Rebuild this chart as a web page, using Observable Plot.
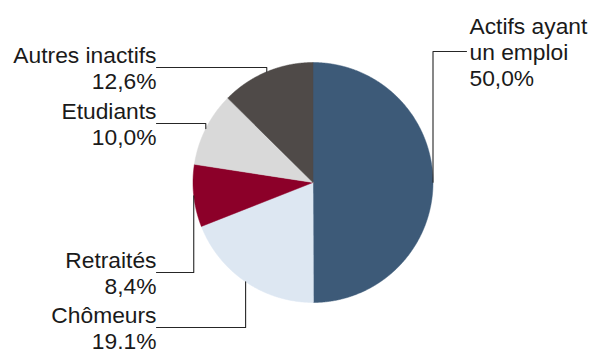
<!DOCTYPE html>
<html>
<head>
<meta charset="utf-8">
<script src="https://cdn.jsdelivr.net/npm/d3@7"></script>
<script src="https://cdn.jsdelivr.net/npm/@observablehq/plot@0.6"></script>
<style>
  html, body { margin: 0; padding: 0; background: #fff; }
  #chart svg { display: block; }
</style>
</head>
<body>
<div id="chart"></div>
<script>
// ---- Data ----
const categories = ["Actifs ayant un emploi", "Chômeurs", "Retraités", "Etudiants", "Autres inactifs"];
const labelTexts = ["Actifs ayant\nun emploi\n50,0%", "Chômeurs\n19.1%", "Retraités\n8,4%", "Etudiants\n10,0%", "Autres inactifs\n12,6%"];
const shares = [50.0, 19.1, 8.4, 10.0, 12.6];
const colors = ["#3D5A78", "#DDE7F2", "#8C0029", "#D9D9D9", "#4F4A48"];

// ---- Layout (pixels) ----
const W = 592, H = 349;
const cx = 312.5, cy = 182, R = 120;
// label anchor: x of text edge, y of label vertical middle, text anchor
const labelX = [469, 156, 156, 156, 156];
const labelY = [51, 327, 272, 123, 67];
const labelSide = ["start", "end", "end", "end", "end"];

// unit conversions (scales map unit circle to the pie)
const ux = px => (px - cx) / R;
const uy = py => (cy - py) / R;

const pie = d3.pie().sort(null).value(d => d)(shares);

// slice polygons on unit circle (angle 0 at top, clockwise)
const slicePts = [];
pie.forEach((a, i) => {
  const n = Math.max(2, Math.ceil((a.endAngle - a.startAngle) / 0.005));
  slicePts.push({k: i, x: 0, y: 0});
  for (let j = 0; j <= n; j++) {
    const t = a.startAngle + (a.endAngle - a.startAngle) * j / n;
    slicePts.push({k: i, x: Math.sin(t), y: Math.cos(t)});
  }
  slicePts.push({k: i, x: 0, y: 0});
});

// leader lines: from slice mid-angle on the rim, vertical to label y, horizontal to label edge
const leaderPts = [];
pie.forEach((a, i) => {
  const m = (a.startAngle + a.endAngle) / 2;
  const x0 = Math.sin(m), y0 = Math.cos(m);
  const ly = uy(labelY[i]);
  const lx = ux(labelSide[i] === "start" ? labelX[i] - 3 : labelX[i]);
  leaderPts.push({k: i, x: x0, y: y0}, {k: i, x: x0, y: ly}, {k: i, x: lx, y: ly});
});

const labels = categories.map((c, i) => ({
  text: labelTexts[i], x: ux(labelX[i]), y: uy(labelY[i]), side: labelSide[i]
}));

const fs = 22.8;
const chart = Plot.plot({
  width: W,
  height: H,
  margin: 0,
  x: {domain: [-1, 1], range: [cx - R, cx + R], axis: null},
  y: {domain: [-1, 1], range: [cy + R, cy - R], axis: null},
  style: {fontFamily: "'Liberation Sans', Arial, sans-serif", background: "#fff"},
  marks: [
    ...pie.map((a, i) => Plot.line(slicePts.filter(d => d.k === i), {
      x: "x", y: "y", fill: colors[i], stroke: colors[i], strokeWidth: 0.5, curve: "linear"
    })),
    Plot.line(leaderPts, {x: "x", y: "y", z: "k", stroke: "#262626", strokeWidth: 1.1, curve: "linear"}),
    Plot.text(labels.filter(d => d.side === "end"), {
      x: "x", y: "y", text: "text", textAnchor: "end", lineAnchor: "middle",
      lineHeight: 26 / fs, fontSize: fs, fill: "#1a1a1a"
    }),
    Plot.text(labels.filter(d => d.side === "start"), {
      x: "x", y: "y", text: "text", textAnchor: "start", lineAnchor: "middle",
      lineHeight: 26 / fs, fontSize: fs, fill: "#1a1a1a"
    })
  ]
});
document.getElementById("chart").appendChild(chart);
</script>
</body>
</html>
